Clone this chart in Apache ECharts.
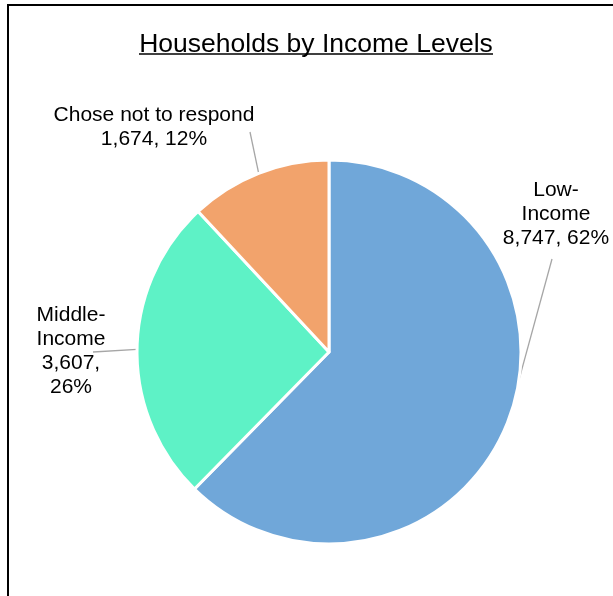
<!DOCTYPE html>
<html>
<head>
<meta charset="utf-8">
<script src="https://cdn.jsdelivr.net/npm/echarts@6/dist/echarts.min.js"></script>
<style>
html,body{margin:0;padding:0;background:#fff;}
#chart{width:613px;height:596px;}
</style>
</head>
<body>
<div id="chart"></div>
<script>
const titleText = 'Households by Income Levels';
const categories = ['Low-Income', 'Middle-Income', 'Chose not to respond'];
const values = [8747, 3607, 1674];
const colors = ['#70A7D9', '#5EF2C6', '#F2A36C'];
// label block centres and connector end offsets (layout only)
const labelPos = [[556, 214], [71, 351], [154, 127]];
const lineEndOffset = [[-4, 45], [22, 1], [96, 5]];

const fmt = n => n.toLocaleString('en-US');

const chart = echarts.init(document.getElementById('chart'), null, {renderer: 'canvas'});
const FONT = 'Arial, "Liberation Sans", sans-serif';

chart.setOption({
  animation: false,
  backgroundColor: '#ffffff',
  title: {
    text: titleText,
    left: 311,
    textAlign: 'center',
    top: 26,
    textStyle: {fontFamily: FONT, fontSize: 26.5, fontWeight: 'normal', color: '#000'}
  },
  graphic: [
    {type: 'rect', shape: {x: 8, y: 5, width: 800, height: 800}, style: {fill: 'none', stroke: '#000', lineWidth: 2}, silent: true},
    {type: 'line', shape: {x1: 139, y1: 54, x2: 493, y2: 54}, style: {stroke: '#000', lineWidth: 1.6}, silent: true}
  ],
  series: [{
    type: 'pie',
    center: [329, 352],
    radius: [0, 192],
    startAngle: 90,
    clockwise: true,
    data: categories.map((c, i) => ({name: c, value: values[i], itemStyle: {color: colors[i]}})),
    itemStyle: {borderColor: '#fff', borderWidth: 3},
    label: {
      show: true,
      position: 'outside',
      fontFamily: FONT,
      fontSize: 21,
      color: '#000',
      lineHeight: 24,
      align: 'center',
      width: 240,
      overflow: 'none',
      formatter: p => {
        const pct = Math.round(p.percent) + '%';
        const v = fmt(p.value);
        if (p.dataIndex === 0) return p.name.replace('-', '-\n') + '\n' + v + ', ' + pct;
        if (p.dataIndex === 1) return p.name.replace('-', '-\n') + '\n' + v + ',\n' + pct;
        return p.name + '\n' + v + ', ' + pct;
      }
    },
    labelLine: {show: true, lineStyle: {color: '#A6A6A6', width: 1.3}},
    labelLayout: p => {
      const i = p.dataIndex;
      const c = labelPos[i];
      const o = lineEndOffset[i];
      const res = {x: c[0], y: c[1], align: 'center', verticalAlign: 'middle'};
      if (p.labelLinePoints && p.labelLinePoints.length) {
        res.labelLinePoints = [p.labelLinePoints[0], [c[0] + o[0], c[1] + o[1]]];
      }
      return res;
    }
  }]
});
</script>
</body>
</html>
